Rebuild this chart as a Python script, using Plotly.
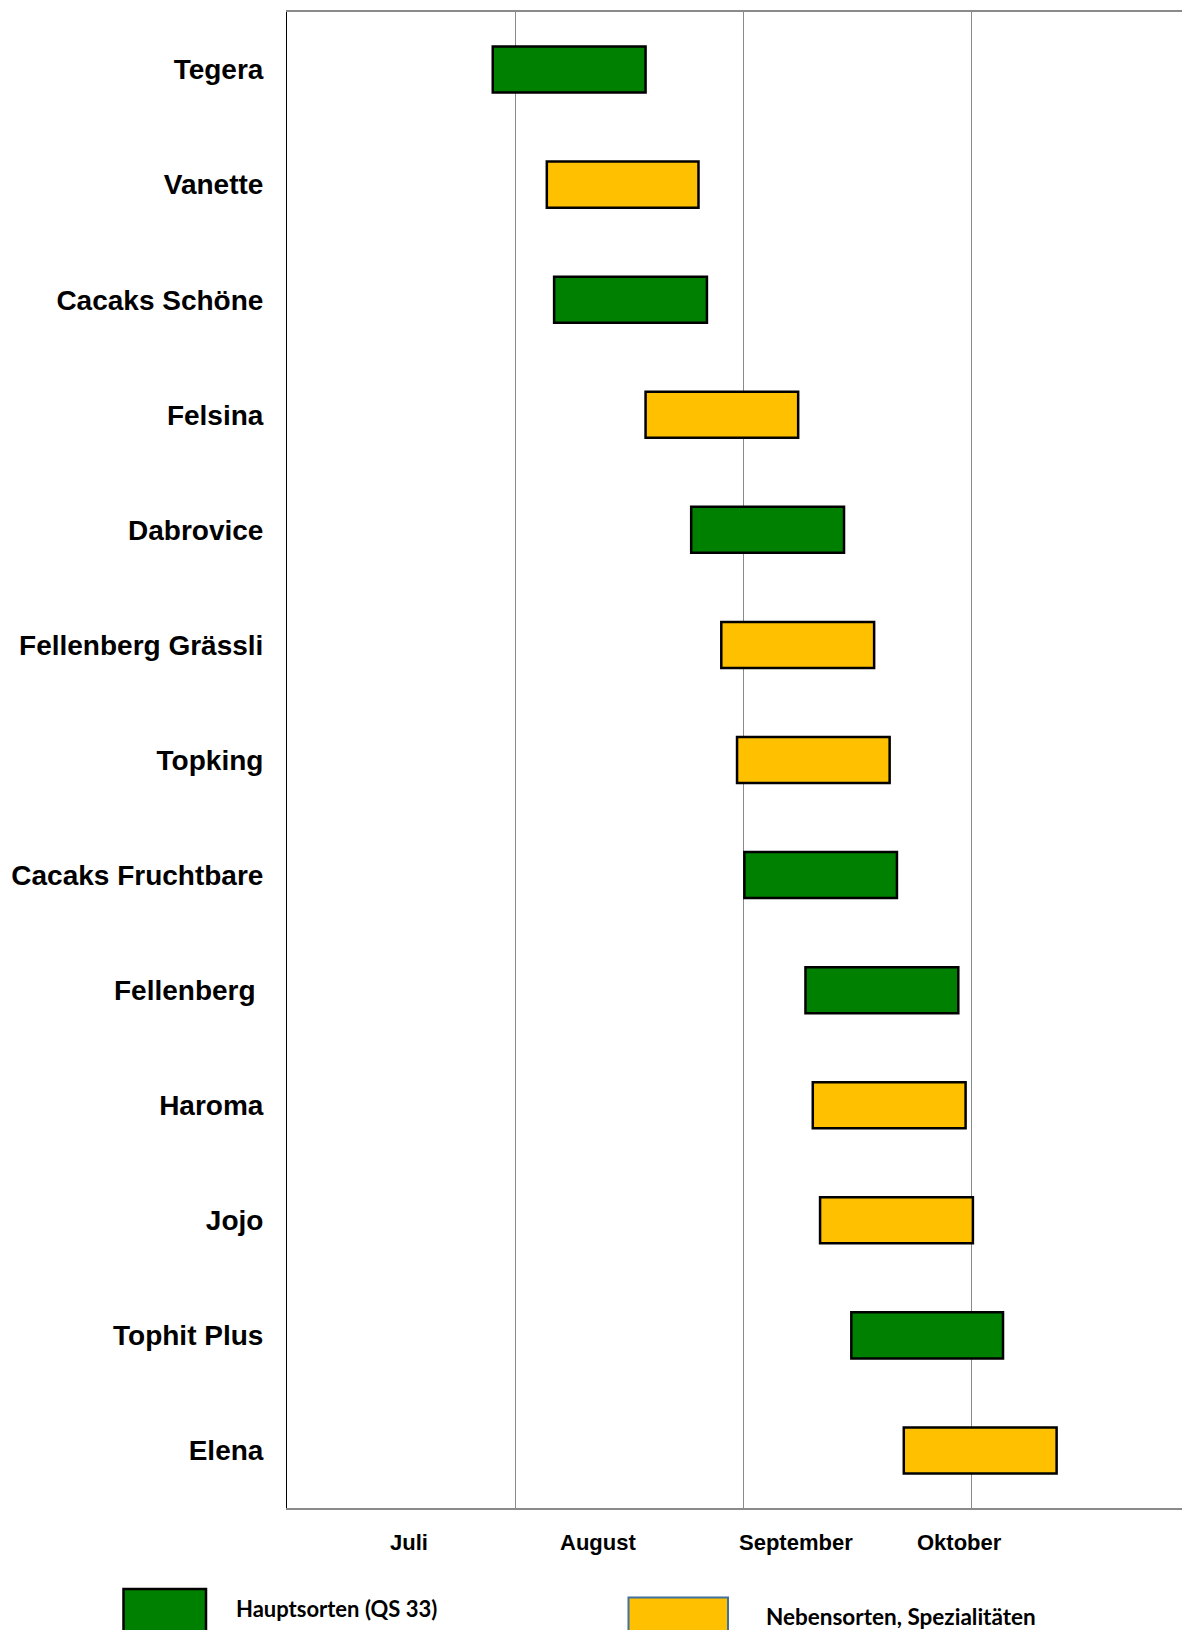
import plotly.graph_objects as go

# Varieties (top to bottom)
varieties = ["Tegera", "Vanette", "Cacaks Schöne", "Felsina", "Dabrovice",
             "Fellenberg Grässli", "Topking", "Cacaks Fruchtbare", "Fellenberg",
             "Haroma", "Jojo", "Tophit Plus", "Elena"]
tick_labels = ["Tegera", "Vanette", "Cacaks Schöne", "Felsina", "Dabrovice",
               "Fellenberg Grässli", "Topking", "Cacaks Fruchtbare", "Fellenberg\u00a0",
               "Haroma", "Jojo", "Tophit Plus", "Elena"]
# Harvest window in months since 1 July (0 = 1 Jul, 1 = 1 Aug, 2 = 1 Sep, 3 = 1 Oct)
start_month = [0.902, 1.139, 1.171, 1.572, 1.772, 1.904, 1.973, 2.005, 2.273, 2.305, 2.337, 2.474, 2.704]
end_month = [1.572, 1.804, 1.841, 2.241, 2.442, 2.574, 2.642, 2.674, 2.943, 2.975, 3.007, 3.139, 3.374]
group = ["H", "N", "H", "N", "H", "N", "N", "H", "H", "N", "N", "H", "N"]

month_names = ["Juli", "August", "September", "Oktober"]
month_label_pos = [0.533, 1.364, 2.232, 2.950]

legend_labels = {"H": "Hauptsorten (QS 33)", "N": "Nebensorten, Spezialitäten"}
colors = {"H": "#008000", "N": "#FFC000"}

fig = go.Figure()
for g in ["H", "N"]:
    idx = [i for i, v in enumerate(group) if v == g]
    fig.add_trace(go.Bar(
        orientation="h",
        y=[varieties[i] for i in idx],
        base=[start_month[i] for i in idx],
        x=[end_month[i] - start_month[i] for i in idx],
        width=0.4,
        marker=dict(color=colors[g], line=dict(color="black", width=2.5)),
        name=legend_labels[g],
        showlegend=False,
    ))

OFF = 8  # page body margin
W, H = 1190 - OFF, 1630 - OFF
L, T, B = 279, 4, 122
plot_h = H - T - B
plot_w = W - L

def px_x(p):
    return (p - OFF - L) / plot_w

def px_y(p):
    return (H - B - (p - OFF)) / plot_h

annotations = []
for name, pos in zip(month_names, month_label_pos):
    annotations.append(dict(
        x=pos, xref="x", y=0, yref="paper", yshift=-34,
        text=name, showarrow=False, xanchor="center", yanchor="middle",
        font=dict(family="Liberation Sans, Arial", size=22, color="black", weight="bold"),
    ))

annotations.append(dict(
    x=px_x(234), xref="paper", y=px_y(1608), yref="paper",
    text=legend_labels["H"], showarrow=False, xanchor="left", yanchor="middle",
    font=dict(family="Lato", size=22, color="black", weight="bold"),
))
annotations.append(dict(
    x=px_x(764), xref="paper", y=px_y(1616), yref="paper",
    text=legend_labels["N"], showarrow=False, xanchor="left", yanchor="middle",
    font=dict(family="Lato", size=22.5, color="black", weight="bold"),
))

shapes = [
    dict(type="rect", xref="paper", yref="paper",
         x0=px_x(123.5), x1=px_x(206), y0=px_y(1589), y1=px_y(1645),
         fillcolor=colors["H"], line=dict(color="black", width=2.5)),
    dict(type="rect", xref="paper", yref="paper",
         x0=px_x(628.5), x1=px_x(728), y0=px_y(1597.5), y1=px_y(1645),
         fillcolor=colors["N"], line=dict(color="#41719C", width=2)),
]

fig.update_layout(
    width=W, height=H,
    margin=dict(l=L, r=0, t=T, b=B, pad=0),
    paper_bgcolor="white", plot_bgcolor="white",
    barmode="overlay",
    showlegend=False,
    annotations=annotations,
    shapes=shapes,
    xaxis=dict(
        range=[0, plot_w / 228.1],
        tickvals=[1, 2, 3],
        showticklabels=False,
        showgrid=True, gridcolor="#8a8a8a", gridwidth=1,
        zeroline=False,
        showline=True, linecolor="#8a8a8a", linewidth=2, mirror=True,
        ticks="",
        fixedrange=True,
    ),
    yaxis=dict(
        type="category",
        categoryorder="array", categoryarray=varieties,
        tickvals=varieties, ticktext=tick_labels,
        range=[len(varieties) - 0.5, -0.5],
        showgrid=False, zeroline=False,
        showline=True, linecolor="black", linewidth=1, mirror=False,
        ticks="", ticklabelstandoff=17,
        tickfont=dict(family="Liberation Sans, Arial", size=28, color="black", weight="bold"),
        fixedrange=True,
    ),
)

fig.write_html("out.html", config={"displayModeBar": False})
